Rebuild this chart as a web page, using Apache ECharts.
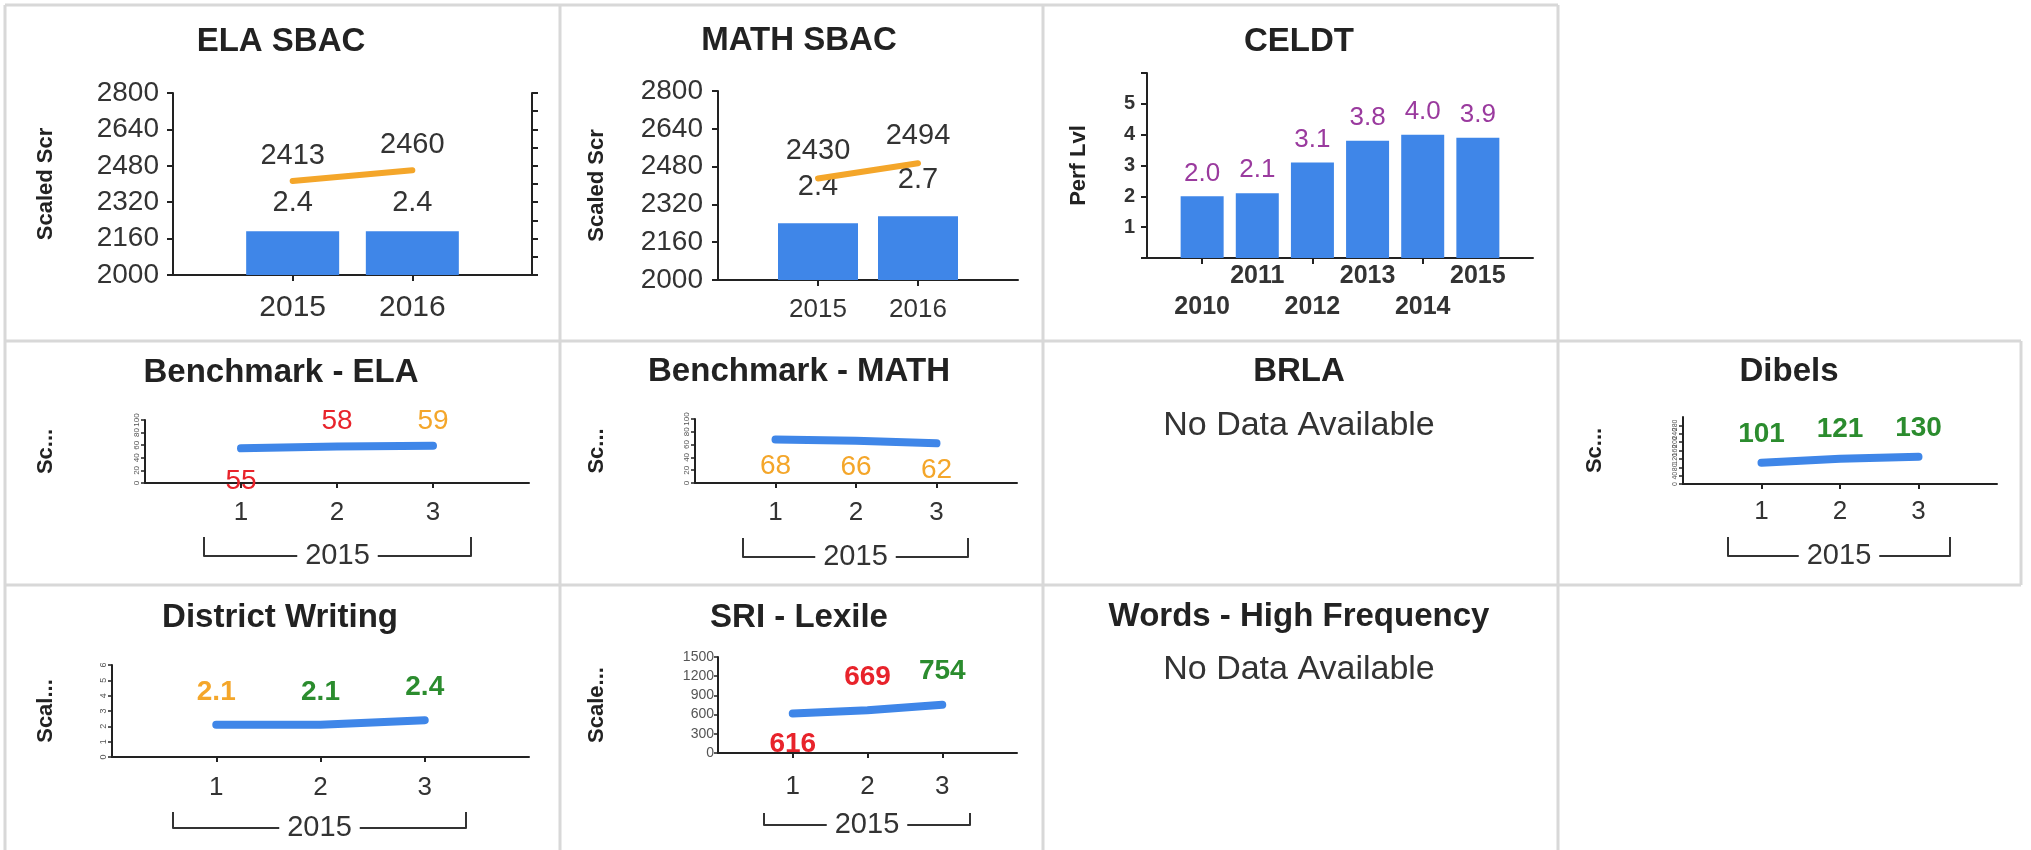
<!DOCTYPE html>
<html><head><meta charset="utf-8">
<script src="https://cdn.jsdelivr.net/npm/echarts@6/dist/echarts.min.js"></script>
<style>html,body{margin:0;padding:0;background:#fff;}#c{width:2031px;height:850px;}</style>
</head><body><div id="c"></div>
<script>
// ---------------- data ----------------
const elaYears = ['2015', '2016'];
const elaScaled = [2413, 2460];
const elaPerf = [2.4, 2.4];
const mathYears = ['2015', '2016'];
const mathScaled = [2430, 2494];
const mathPerf = [2.4, 2.7];
const sbacScale = [2000, 2800, 160];
const celdtYears = ['2010', '2011', '2012', '2013', '2014', '2015'];
const celdtPerf = [2.0, 2.1, 3.1, 3.8, 4.0, 3.9];
const celdtScale = [0, 6, 1];
const periods = ['1', '2', '3'];
const periodGroup = '2015';
const benchElaScores = [55, 58, 59];
const benchElaBands = ['low', 'low', 'mid'];
const benchMathScores = [68, 66, 62];
const benchMathBands = ['mid', 'mid', 'mid'];
const benchScale = [0, 100, 20];
const dibelsScores = [101, 121, 130];
const dibelsBands = ['high', 'high', 'high'];
const dibelsScale = [0, 320, 40];
const writingScores = [2.1, 2.1, 2.4];
const writingBands = ['mid', 'high', 'high'];
const writingScale = [0, 6, 1];
const lexileScores = [616, 669, 754];
const lexileBands = ['low', 'low', 'high'];
const lexileScale = [0, 1500, 300];
const noDataText = 'No Data Available';

// ---------------- styles ----------------
const BLUE = '#3f86e8';
const ORANGE = '#f4a62a';
const DARK = '#222';
const FONT = '"Liberation Sans", Arial, Helvetica, sans-serif';
const BAND_COLORS = { low: '#e8232b', mid: '#f4a62a', high: '#2b8c2e' };
const NAME_STYLE = { fontSize: 22, fontWeight: 'bold', color: DARK, fontFamily: FONT };
const AX_LINE = { color: DARK, width: 2 };
const plain = (v) => String(v);

const option = {
  animation: false,
  textStyle: { fontFamily: FONT },
  title: [], grid: [], xAxis: [], yAxis: [], series: [], graphic: []
};

function pad(arr) { return [' '].concat(arr, ['  ']); }
function pts(vals) { return vals.map((v, i) => [i + 1, v]); }
function addGrid(l, t, w, h) {
  option.grid.push({ left: l, top: t, width: w, height: h, outerBoundsMode: 'none', containLabel: false });
  return option.grid.length - 1;
}
function addTitle(text, x, y, style) {
  option.title.push({
    text: text, left: x, top: y, textAlign: 'center', textVerticalAlign: 'middle', padding: 0,
    textStyle: Object.assign({ fontSize: 33, fontWeight: 'bold', color: DARK, fontFamily: FONT }, style || {})
  });
}

// --------------- SBAC panels (bar + line, dual axis) ---------------
function sbacPanel(c) {
  const gi = addGrid(c.left, c.top, c.width, c.height);
  const cats = pad(c.years);
  option.xAxis.push({
    gridIndex: gi, type: 'category', data: cats, boundaryGap: false,
    axisLine: { lineStyle: AX_LINE },
    axisTick: { interval: (i) => i > 0 && i < cats.length - 1, length: 6, lineStyle: AX_LINE },
    axisLabel: { interval: 0, fontSize: c.xFont, color: '#333', margin: c.xMargin },
    splitLine: { show: false }
  });
  const xi = option.xAxis.length - 1;
  option.yAxis.push({
    gridIndex: gi, type: 'value', position: 'left', min: c.scale[0], max: c.scale[1], interval: c.scale[2],
    name: c.name, nameLocation: 'middle', nameRotate: 90, nameGap: c.nameGap, nameTextStyle: NAME_STYLE,
    axisLine: { show: true, lineStyle: AX_LINE }, axisTick: { show: true, length: 6, lineStyle: AX_LINE },
    axisLabel: { fontSize: 28, color: '#333', margin: c.yMargin, formatter: plain }, splitLine: { show: false }
  });
  const yl = option.yAxis.length - 1;
  option.yAxis.push({
    gridIndex: gi, type: 'value', position: 'right', min: 0, max: c.perfMax, interval: 1, show: c.showRight,
    axisLine: { show: true, lineStyle: AX_LINE }, axisTick: { show: true, length: 6, lineStyle: AX_LINE },
    axisLabel: { show: false }, splitLine: { show: false }
  });
  const yr = option.yAxis.length - 1;
  option.series.push({
    type: 'bar', xAxisIndex: xi, yAxisIndex: yr, barWidth: c.barWidth, itemStyle: { color: BLUE },
    data: pts(c.perf),
    label: { show: true, position: 'top', distance: c.barLabelDist, fontSize: 29, color: '#333',
      formatter: (p) => p.value[1].toFixed(1) }
  });
  option.series.push({
    type: 'line', xAxisIndex: xi, yAxisIndex: yl, data: pts(c.scaled), symbol: 'circle', symbolSize: 2,
    itemStyle: { color: ORANGE }, lineStyle: { color: ORANGE, width: 6, cap: 'round' }, z: 3,
    label: { show: true, position: 'top', distance: c.lineLabelDist, fontSize: 29, color: '#333',
      formatter: (p) => String(p.value[1]) }
  });
}

// --------------- CELDT bar panel ---------------
function celdtPanel(c) {
  const gi = addGrid(c.left, c.top, c.width, c.height);
  const cats = pad(c.years);
  option.xAxis.push({
    gridIndex: gi, type: 'category', data: cats, boundaryGap: false,
    axisLine: { lineStyle: AX_LINE },
    axisTick: { interval: (i) => i % 2 === 1 && i < cats.length - 2, length: 6, lineStyle: AX_LINE },
    axisLabel: { interval: 0, fontSize: 25, fontWeight: 'bold', color: '#333', margin: 3, lineHeight: 31,
      formatter: (v, i) => (i % 2 === 1 ? '\n' + v : v) },
    splitLine: { show: false }
  });
  const xi = option.xAxis.length - 1;
  option.yAxis.push({
    gridIndex: gi, type: 'value', min: c.scale[0], max: c.scale[1], interval: c.scale[2],
    name: c.name, nameLocation: 'middle', nameRotate: 90, nameGap: c.nameGap, nameTextStyle: NAME_STYLE,
    axisLine: { show: true, lineStyle: AX_LINE }, axisTick: { show: true, length: 6, lineStyle: AX_LINE },
    axisLabel: { fontSize: 20, fontWeight: 'bold', color: '#333', margin: 12,
      formatter: (v) => (v === c.scale[0] || v === c.scale[1] ? '' : String(v)) },
    splitLine: { show: false }
  });
  const yi = option.yAxis.length - 1;
  option.series.push({
    type: 'bar', xAxisIndex: xi, yAxisIndex: yi, barWidth: 43, itemStyle: { color: BLUE },
    data: pts(c.perf),
    label: { show: true, position: 'top', distance: 10, fontSize: 26, color: '#9a3a9e',
      formatter: (p) => p.value[1].toFixed(1) }
  });
}

// --------------- bracket (group axis "2015") ---------------
function bracket(b, text) {
  const gi = addGrid(b.left, b.y - b.h, b.width, b.h);
  option.xAxis.push({
    gridIndex: gi, type: 'category', data: [text], boundaryGap: true,
    axisLine: { lineStyle: { color: '#333', width: 2 } },
    axisTick: { show: true, inside: true, length: b.h, lineStyle: { color: '#333', width: 2 } },
    axisLabel: { interval: 0, verticalAlign: 'middle', margin: 0, fontSize: 29, color: '#333',
      backgroundColor: '#fff', padding: [0, 8] },
    splitLine: { show: false }
  });
  option.yAxis.push({ gridIndex: gi, type: 'value', show: false, min: 0, max: 1 });
}

// --------------- line panels (periods 1..3) ---------------
function linePanel(c) {
  const gi = addGrid(c.left, c.top, c.width, c.height);
  const cats = pad(c.periods);
  option.xAxis.push({
    gridIndex: gi, type: 'category', data: cats, boundaryGap: false,
    axisLine: { lineStyle: AX_LINE },
    axisTick: { interval: (i) => i > 0 && i < cats.length - 1, length: 5, lineStyle: AX_LINE },
    axisLabel: { interval: 0, fontSize: 26, color: '#333', margin: c.xMargin },
    splitLine: { show: false }
  });
  const xi = option.xAxis.length - 1;
  option.yAxis.push({
    gridIndex: gi, type: 'value', min: c.scale[0], max: c.scale[1], interval: c.scale[2],
    name: c.name, nameLocation: 'middle', nameRotate: 90, nameGap: c.nameGap, nameTextStyle: NAME_STYLE,
    axisLine: { show: true, lineStyle: AX_LINE }, axisTick: { show: true, length: 4, lineStyle: { color: DARK, width: 1.5 } },
    axisLabel: { fontSize: c.yFont, color: '#555', margin: 4, rotate: c.yRotate, hideOverlap: false, formatter: plain },
    splitLine: { show: false }
  });
  const yi = option.yAxis.length - 1;
  option.series.push({
    type: 'line', xAxisIndex: xi, yAxisIndex: yi, symbol: 'circle', symbolSize: 2, z: 3,
    itemStyle: { color: BLUE }, lineStyle: { color: BLUE, width: 8, cap: 'round' },
    data: pts(c.values).map((d, i) => ({
      value: d,
      label: {
        show: true, position: c.labelPos[i], distance: c.labelDist[c.labelPos[i]],
        color: BAND_COLORS[c.bands[i]], fontSize: 28, fontWeight: c.bold ? 'bold' : 'normal',
        formatter: (p) => String(p.value[1])
      }
    }))
  });
  bracket(c.bracket, c.group);
}

// ---------------- build ----------------
addTitle('ELA SBAC', 281, 42);
sbacPanel({ left: 173, top: 93, width: 359, height: 182, years: elaYears, scaled: elaScaled, perf: elaPerf,
  scale: sbacScale, perfMax: 10, showRight: true, barWidth: 93, xFont: 30, xMargin: 18, yMargin: 14,
  name: 'Scaled Scr', nameGap: 116, barLabelDist: 14, lineLabelDist: 10 });

addTitle('MATH SBAC', 799, 41);
sbacPanel({ left: 718, top: 91, width: 300, height: 189, years: mathYears, scaled: mathScaled, perf: mathPerf,
  scale: sbacScale, perfMax: 8, showRight: false, barWidth: 80, xFont: 26, xMargin: 17, yMargin: 15,
  name: 'Scaled Scr', nameGap: 110, barLabelDist: 22, lineLabelDist: 12 });

addTitle('CELDT', 1299, 42);
celdtPanel({ left: 1147, top: 73, width: 386, height: 185, years: celdtYears, perf: celdtPerf,
  scale: celdtScale, name: 'Perf Lvl', nameGap: 57 });

addTitle('Benchmark - ELA', 281, 373);
linePanel({ left: 145, top: 420, width: 384, height: 63, periods: periods, group: periodGroup,
  values: benchElaScores, bands: benchElaBands, scale: benchScale, yFont: 8, yRotate: 90,
  labelPos: ['bottom', 'top', 'top'], labelDist: { top: 10, bottom: 18 }, bold: false,
  name: 'Sc...', nameGap: 88, xMargin: 17, bracket: { left: 204, width: 267, y: 556, h: 19 } });

addTitle('Benchmark - MATH', 799, 372);
linePanel({ left: 695, top: 419, width: 322, height: 64, periods: periods, group: periodGroup,
  values: benchMathScores, bands: benchMathBands, scale: benchScale, yFont: 8, yRotate: 90,
  labelPos: ['bottom', 'bottom', 'bottom'], labelDist: { top: 10, bottom: 12 }, bold: false,
  name: 'Sc...', nameGap: 87, xMargin: 17, bracket: { left: 743, width: 225, y: 557, h: 19 } });

addTitle('BRLA', 1299, 372);
addTitle(noDataText, 1299, 426, { fontWeight: 'normal', fontSize: 34, color: '#333' });

addTitle('Dibels', 1789, 372);
linePanel({ left: 1683, top: 417, width: 314, height: 67, periods: periods, group: periodGroup,
  values: dibelsScores, bands: dibelsBands, scale: dibelsScale, yFont: 7, yRotate: 90,
  labelPos: ['top', 'top', 'top'], labelDist: { top: 14, bottom: 14 }, bold: true,
  name: 'Sc...', nameGap: 77, xMargin: 15, bracket: { left: 1728, width: 222, y: 556, h: 19 } });

addTitle('District Writing', 280, 618);
linePanel({ left: 112, top: 665, width: 417, height: 92, periods: periods, group: periodGroup,
  values: writingScores, bands: writingBands, scale: writingScale, yFont: 9, yRotate: 90,
  labelPos: ['top', 'top', 'top'], labelDist: { top: 18, bottom: 18 }, bold: true,
  name: 'Scal...', nameGap: 55, xMargin: 18, bracket: { left: 173, width: 293, y: 828, h: 16 } });

addTitle('SRI - Lexile', 799, 618);
linePanel({ left: 718, top: 657, width: 299, height: 96, periods: periods, group: periodGroup,
  values: lexileScores, bands: lexileBands, scale: lexileScale, yFont: 14, yRotate: 0,
  labelPos: ['bottom', 'top', 'top'], labelDist: { top: 18, bottom: 16 }, bold: true,
  name: 'Scale...', nameGap: 110, xMargin: 21, bracket: { left: 764, width: 206, y: 825, h: 12 } });

addTitle('Words - High Frequency', 1299, 617);
addTitle(noDataText, 1299, 670, { fontWeight: 'normal', fontSize: 34, color: '#333' });

// panel borders
const borderLines = [[5, 5, 1558, 5], [5, 341, 2021, 341], [5, 585, 2021, 585], [5, 5, 5, 850],
  [560, 5, 560, 850], [1043, 5, 1043, 850], [1558, 5, 1558, 850], [2021, 341, 2021, 585]];
borderLines.forEach((l) => option.graphic.push({
  type: 'line', silent: true, z: -1,
  shape: { x1: l[0], y1: l[1], x2: l[2], y2: l[3] },
  style: { stroke: '#d8d8d8', lineWidth: 3 }
}));

const chart = echarts.init(document.getElementById('c'), null, { renderer: 'canvas' });
chart.setOption(option);
</script></body></html>
